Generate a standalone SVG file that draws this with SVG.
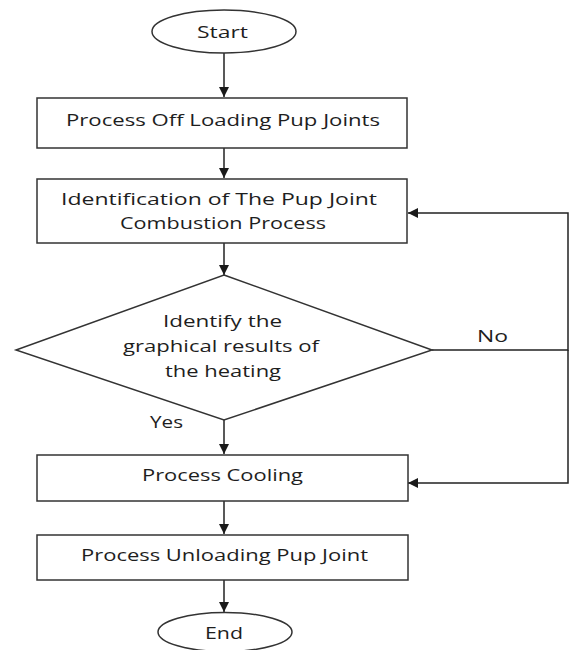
<svg xmlns="http://www.w3.org/2000/svg" width="569" height="650" viewBox="0 0 569 650">
  <defs>
    <marker id="arrow" markerWidth="10" markerHeight="10" refX="10" refY="5" orient="auto" markerUnits="userSpaceOnUse">
      <path d="M0,0 L10,5 L0,10 Z" fill="#1a1a1a"/>
    </marker>
    <style>
      .shape { fill: #ffffff; stroke: #333333; stroke-width: 1.5; }
      .label { font-family: "Open Sans", "Noto Sans", "DejaVu Sans", sans-serif; font-size: 17px; fill: #1e1e1e; text-anchor: middle; }
      .edge { fill: none; stroke: #222222; stroke-width: 1.5; }
      .edge-label { font-family: "Open Sans", "Noto Sans", "DejaVu Sans", sans-serif; font-size: 17px; fill: #1e1e1e; }
    </style>
  </defs>
  <rect width="569" height="650" fill="#ffffff"/>

  <g id="connectors">
    <line class="edge" x1="224" y1="53" x2="224" y2="97" marker-end="url(#arrow)"/>
    <line class="edge" x1="224" y1="148" x2="224" y2="178" marker-end="url(#arrow)"/>
    <line class="edge" x1="224" y1="243" x2="224" y2="275" marker-end="url(#arrow)"/>
    <line class="edge" x1="224" y1="420" x2="224" y2="454" marker-end="url(#arrow)"/>
    <line class="edge" x1="224" y1="501" x2="224" y2="534" marker-end="url(#arrow)"/>
    <line class="edge" x1="224" y1="580" x2="224" y2="612" marker-end="url(#arrow)"/>
    <polyline class="edge" points="432,350 568,350 568,213 408,213" marker-end="url(#arrow)"/>
    <polyline class="edge" points="568,350 568,483 408,483" marker-end="url(#arrow)"/>
    <text class="edge-label" x="477" y="342" textLength="31" lengthAdjust="spacingAndGlyphs">No</text>
    <text class="edge-label" x="150" y="428" textLength="33" lengthAdjust="spacingAndGlyphs">Yes</text>
  </g>

  <g id="start">
    <ellipse class="shape" cx="224" cy="31.5" rx="72" ry="21.5"/>
    <text class="label" x="222.5" y="38" textLength="51" lengthAdjust="spacingAndGlyphs">Start</text>
  </g>

  <g id="offloading">
    <rect class="shape" x="37" y="98" width="370" height="50"/>
    <text class="label" x="223" y="126" textLength="314" lengthAdjust="spacingAndGlyphs">Process Off Loading Pup Joints</text>
  </g>

  <g id="identification">
    <rect class="shape" x="37" y="179" width="370" height="64"/>
    <text class="label" x="219" y="205" textLength="316" lengthAdjust="spacingAndGlyphs">Identification of The Pup Joint</text>
    <text class="label" x="223" y="229" textLength="206" lengthAdjust="spacingAndGlyphs">Combustion Process</text>
  </g>

  <g id="decision">
    <polygon class="shape" points="224,275 432,350 224,420 16,350"/>
    <text class="label" x="222.5" y="327" textLength="119" lengthAdjust="spacingAndGlyphs">Identify the</text>
    <text class="label" x="221" y="352" textLength="196" lengthAdjust="spacingAndGlyphs">graphical results of</text>
    <text class="label" x="223" y="377" textLength="116" lengthAdjust="spacingAndGlyphs">the heating</text>
  </g>

  <g id="cooling">
    <rect class="shape" x="37" y="455" width="371" height="46"/>
    <text class="label" x="222.5" y="481" textLength="161" lengthAdjust="spacingAndGlyphs">Process Cooling</text>
  </g>

  <g id="unloading">
    <rect class="shape" x="37" y="535" width="371" height="45"/>
    <text class="label" x="224.5" y="561" textLength="287" lengthAdjust="spacingAndGlyphs">Process Unloading Pup Joint</text>
  </g>

  <g id="end">
    <ellipse class="shape" cx="225" cy="632" rx="67" ry="19.5"/>
    <text class="label" x="224" y="639" textLength="38" lengthAdjust="spacingAndGlyphs">End</text>
  </g>
</svg>
